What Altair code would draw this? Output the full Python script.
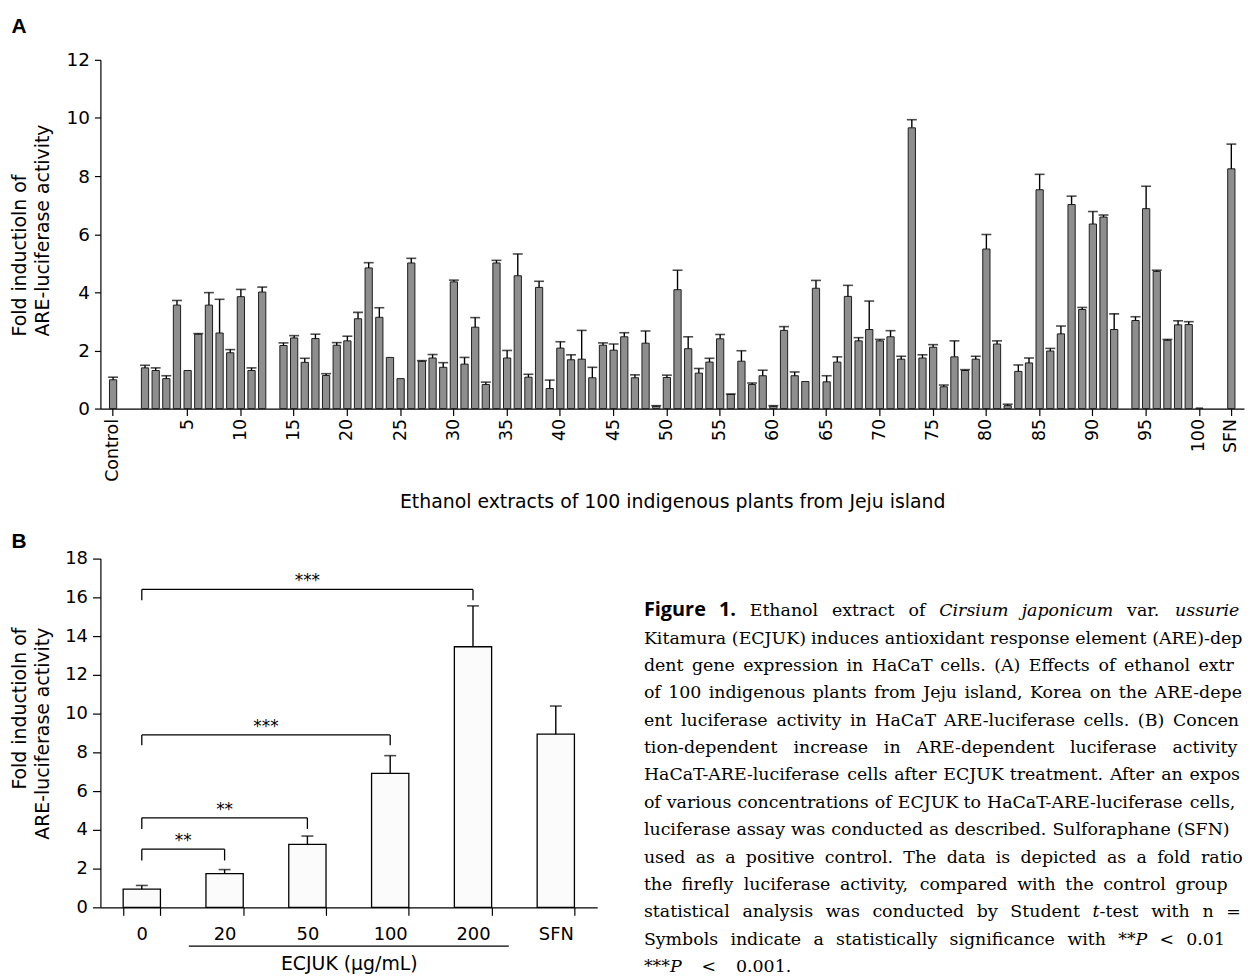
import altair as alt
import pandas as pd

# ---------------- Panel A data ----------------
plant_ids = [str(i) for i in range(1, 101)]
plant_means = [1.40, 1.31, 1.03, 3.56, 1.31, 2.56, 3.56, 2.60, 1.92, 3.85,
               1.31, 4.01, None, 2.17, 2.43, 1.59, 2.41, 1.14, 2.18, 2.33,
               3.09, 4.84, 3.14, 1.76, 1.03, 5.01, 1.63, 1.74, 1.42, 4.36,
               1.53, 2.80, 0.83, 5.01, 1.74, 4.57, 1.08, 4.17, 0.69, 2.08,
               1.68, 1.70, 1.06, 2.18, 2.01, 2.47, 1.06, 2.25, 0.08, 1.07,
               4.09, 2.06, 1.22, 1.60, 2.40, 0.49, 1.63, 0.83, 1.13, 0.08,
               2.69, 1.13, 0.93, 4.14, 0.92, 1.60, 3.86, 2.33, 2.72, 2.33,
               2.47, 1.70, 9.66, 1.74, 2.11, 0.75, 1.78, 1.31, 1.70, 5.49,
               2.22, 0.10, 1.28, 1.57, 7.53, 1.98, 2.57, 7.02, 3.41, 6.35,
               6.59, 2.72, None, 3.03, 6.88, 4.72, 2.35, 2.88, 2.89, 0.02]
plant_errs = [0.09, 0.09, 0.10, 0.16, None, 0.02, 0.43, 1.16, 0.11, 0.25,
              0.09, 0.17, None, 0.09, 0.08, 0.14, 0.15, 0.06, 0.09, 0.16,
              0.22, 0.18, 0.33, None, None, 0.16, 0.02, 0.12, 0.16, 0.06,
              0.23, 0.33, 0.08, 0.09, 0.26, 0.75, 0.10, 0.21, 0.29, 0.22,
              0.17, 0.99, 0.36, 0.08, 0.21, 0.14, 0.10, 0.42, 0.02, 0.08,
              0.67, 0.41, 0.16, 0.13, 0.15, 0.01, 0.36, 0.05, 0.19, 0.02,
              0.13, 0.13, None, 0.27, 0.21, 0.18, 0.38, 0.11, 0.98, 0.05,
              0.21, 0.10, 0.28, 0.11, 0.09, 0.06, 0.55, 0.03, 0.10, 0.50,
              0.11, 0.05, 0.22, 0.17, 0.53, 0.09, 0.27, 0.29, 0.07, 0.43,
              0.07, 0.54, None, 0.13, 0.77, 0.04, 0.03, 0.14, 0.10, None]
control_mean, control_err = 0.99, 0.09
sfn_mean_a, sfn_err_a = 8.25, 0.85
tick_labels_a = ["Control"] + [str(i) for i in range(5, 101, 5)] + ["SFN"]

# ---------------- Panel B data ----------------
cats_b = ["0", "20", "50", "100", "200", "SFN"]
means_b = [0.94, 1.74, 3.25, 6.91, 13.45, 8.94]
errs_b = [0.19, 0.21, 0.43, 0.92, 2.11, 1.45]
bracket_to = ["20", "50", "100", "200"]
bracket_level = [3.0, 4.62, 8.9, 16.41]
bracket_low = [2.42, 4.05, 8.37, 15.85]
bracket_label = ["**", "**", "***", "***"]

ytitle = ["Fold inductioln of", "ARE-luciferase activity"]

# Caption ({...} italic, [...] bold sans)
caption_text = [
    "[Figure] [1.] Ethanol extract of {Cirsium} {japonicum} var. {ussuriense}",
    "Kitamura (ECJUK) induces antioxidant response element (ARE)-depen-",
    "dent gene expression in HaCaT cells. (A) Effects of ethanol extracts",
    "of 100 indigenous plants from Jeju island, Korea on the ARE-depend-",
    "ent luciferase activity in HaCaT ARE-luciferase cells. (B) Concentra-",
    "tion-dependent increase in ARE-dependent luciferase activity in",
    "HaCaT-ARE-luciferase cells after ECJUK treatment. After an exposure",
    "of various concentrations of ECJUK to HaCaT-ARE-luciferase cells, the",
    "luciferase assay was conducted as described. Sulforaphane (SFN) was",
    "used as a positive control. The data is depicted as a fold ratio of",
    "the firefly luciferase activity, compared with the control group and",
    "statistical analysis was conducted by Student {t}-test with n = 3.",
    "Symbols indicate a statistically significance with **{P} < 0.01 and",
    "***{P} < 0.001.",
]

# ---------------- tables ----------------
cats_a = ["Control"] + plant_ids + ["SFN"]
vals_a = [control_mean] + plant_means + [sfn_mean_a]
errs_a = [control_err] + plant_errs + [sfn_err_a]
df_a = pd.DataFrame({
    "cat": cats_a,
    "val": vals_a,
    "top": [(v + e) if (v is not None and e is not None) else None for v, e in zip(vals_a, errs_a)],
})
domain_a = ["Control", " g1", " g2"] + plant_ids + [" g3", " g4", "SFN"]

df_b = pd.DataFrame({"cat": cats_b, "val": means_b,
                     "top": [m + e for m, e in zip(means_b, errs_b)]})
df_br = pd.DataFrame({"from": ["0"] * 4, "to": bracket_to, "level": bracket_level,
                      "low": bracket_low, "label": bracket_label})
df_drop = pd.DataFrame({
    "cat": ["0"] * 4 + bracket_to,
    "level": bracket_level * 2,
    "low": bracket_low * 2,
})

# ---------------- layout ----------------
W, H = 1152, 930
A_BOTTOM = 351
B_TOP, B_BOTTOM = 502, 853
B_WIDTH = 500
SANS = "DejaVu Sans"
SERIF = "DejaVu Serif"

scale_xa = alt.Scale(domain=domain_a, range=[0, 1151], paddingInner=0.32, paddingOuter=0.85)
axis_xa = alt.Axis(orient="bottom", offset=A_BOTTOM - H, values=tick_labels_a, labelAngle=270,
                   labelFontSize=17.5, labelPadding=3, tickSize=7, labelOverlap=False,
                   titleFontSize=19, titleX=575.5, titleY=94, titleBaseline="middle",
                   titleAlign="center")
scale_ya = alt.Scale(domain=[0, 12], range=[A_BOTTOM, 0], nice=False)
axis_ya = alt.Axis(orient="left", values=list(range(0, 13, 2)), tickSize=6, labelPadding=5,
                   labelFontSize=18.5, titleFontSize=19, titleX=-81, titleY=278,
                   titleAlign="left", titleAngle=270, titleBaseline="middle", titleLineHeight=23)


def xa(field="cat"):
    return alt.X(f"{field}:N", scale=scale_xa, axis=axis_xa,
                 title="Ethanol extracts of 100 indigenous plants from Jeju island")


def ya(field="val"):
    return alt.Y(f"{field}:Q", scale=scale_ya, axis=axis_ya, title=ytitle)


scale_xb = alt.Scale(domain=cats_b, range=[0, B_WIDTH], paddingInner=0.55, paddingOuter=0.275)
axis_xb = alt.Axis(orient="bottom", offset=B_BOTTOM - H, labelAngle=0, labelFontSize=18,
                   labelPadding=10, tickSize=8, tickBand="extent", titleFontSize=19,
                   titleX=250, titleY=57, titleBaseline="middle", titleAlign="center")
scale_yb = alt.Scale(domain=[0, 18], range=[B_BOTTOM, B_TOP], nice=False)
axis_yb = alt.Axis(orient="left", values=list(range(0, 19, 2)), tickSize=8, labelPadding=5,
                   labelFontSize=18, titleFontSize=19, titleX=-81, titleY=571,
                   titleAlign="right", titleAngle=270, titleBaseline="middle", titleLineHeight=23)


def xb(field="cat"):
    return alt.X(f"{field}:N", scale=scale_xb, axis=axis_xb, title="ECJUK (μg/mL)")


def yb(field="val"):
    return alt.Y(f"{field}:Q", scale=scale_yb, axis=axis_yb, title=ytitle)


# ---------------- Panel A ----------------
bars_a = alt.Chart(df_a).mark_bar(fill="#8e8e8e", stroke="#1e1e1e", strokeWidth=1).encode(
    x=xa(), y=ya())
err_a = alt.Chart(df_a).transform_filter("datum.top != null").mark_rule(
    color="black", strokeWidth=1.4).encode(x=xa(), y=ya(), y2="top:Q")
cap_a = alt.Chart(df_a).transform_filter("datum.top != null").mark_tick(
    color="black", size=10, thickness=1.6).encode(x=xa(), y=ya("top"))
panel_a = alt.layer(bars_a, err_a, cap_a)

# ---------------- Panel B ----------------
bars_b = alt.Chart(df_b).mark_bar(fill="#fbfbfb", stroke="black", strokeWidth=1.3).encode(
    x=xb(), y=yb())
err_b = alt.Chart(df_b).mark_rule(color="black", strokeWidth=1.4).encode(
    x=xb(), y=yb(), y2="top:Q")
cap_b = alt.Chart(df_b).mark_tick(color="black", size=12, thickness=1.6).encode(
    x=xb(), y=yb("top"))
br_h = alt.Chart(df_br).mark_rule(color="black", strokeWidth=1.3).encode(
    x=xb("from"), x2="to:N", y=yb("level"))
br_v = alt.Chart(df_drop).mark_rule(color="black", strokeWidth=1.3).encode(
    x=xb("cat"), y=yb("level"), y2="low:Q")
step_b = B_WIDTH / len(cats_b)
stars = []
for i in range(len(bracket_to)):
    k = cats_b.index(bracket_to[i])
    stars.append(
        alt.Chart(df_br.iloc[[i]]).mark_text(
            font=SANS, fontSize=17, baseline="alphabetic", align="center",
            xOffset=k * step_b / 2, dy=-3, color="black"
        ).encode(x=xb("from"), y=yb("level"), text="label:N")
    )
underline = alt.Chart(pd.DataFrame({"from": ["20"], "to": ["200"]})).mark_rule(
    color="black", strokeWidth=1.3, xOffset=-36, x2Offset=36).encode(
    x=xb("from"), x2="to:N", y=alt.value(892))
panel_b = alt.layer(bars_b, err_b, cap_b, br_h, br_v, *stars, underline)

# ---------------- panel letters ----------------
one = pd.DataFrame({"a": [0]})


def letter(s, px, py):
    return alt.Chart(one).mark_text(
        font="Liberation Sans", fontSize=21, fontWeight="bold", align="center",
        baseline="alphabetic", color="black"
    ).encode(x=alt.value(px - 101), y=alt.value(py - 57), text=alt.value(s))


# ---------------- caption (justified word layout) ----------------
CAP_SIZE = 17.5
CAP_LEFT, CAP_WIDTH, CAP_CLIP = 648, 630, 1251
BASE0, LINE_H = 617, 27.55
SERIF_W = {
    " ": .318, "a": .596, "b": .640, "c": .560, "d": .640, "e": .592, "f": .370, "g": .640,
    "h": .644, "i": .320, "j": .310, "k": .606, "l": .320, "m": .948, "n": .644, "o": .602,
    "p": .640, "q": .640, "r": .478, "s": .513, "t": .402, "u": .644, "v": .565, "w": .856,
    "x": .564, "y": .565, "z": .527, "A": .722, "B": .735, "C": .720, "D": .802, "E": .729,
    "F": .693, "G": .799, "H": .872, "I": .395, "J": .401, "K": .747, "L": .664, "M": 1.024,
    "N": .875, "O": .820, "P": .673, "Q": .820, "R": .753, "S": .685, "T": .667, "U": .843,
    "V": .722, "W": 1.028, "X": .712, "Y": .660, "Z": .695, ".": .318, ",": .318, "(": .390,
    ")": .390, "-": .338, "=": .838, "<": .838, "*": .500,
}
BOLD_W = {"F": .574, "i": .285, "g": .562, "u": .640, "r": .444, "e": .573, "1": .572, ".": .276}


def piece_width(text, style):
    if style == "bold":
        return sum(BOLD_W.get(c, .6) for c in text) * 20
    return sum(SERIF_W.get(c, .636) for c in text) * CAP_SIZE


def parse_word(word):
    pieces, buf, style = [], "", "reg"
    for c in word:
        if c in "{[":
            if buf:
                pieces.append((buf, style))
            buf, style = "", ("it" if c == "{" else "bold")
        elif c in "}]":
            if buf:
                pieces.append((buf, style))
            buf, style = "", "reg"
        else:
            buf += c
    if buf:
        pieces.append((buf, style))
    return pieces


rows = []
for li, line in enumerate(caption_text):
    words = [parse_word(w) for w in line.split(" ")]
    widths = [sum(piece_width(t, s) for t, s in w) for w in words]
    last = li == len(caption_text) - 1
    gap = 20 if last else max(4.0, (CAP_WIDTH - sum(widths)) / (len(words) - 1))
    x = CAP_LEFT
    py = BASE0 + li * LINE_H
    for w, wd in zip(words, widths):
        px = x
        for t, s in w:
            pw = piece_width(t, s)
            if px + pw > CAP_CLIP:
                keep = ""
                for c in t:
                    if px + piece_width(keep + c, s) > CAP_CLIP:
                        break
                    keep += c
                t = keep
            if t:
                rows.append({"t": t, "px": px - 101, "py": py - 57, "style": s})
            px += pw
        x += wd + gap
cap_df = pd.DataFrame(rows)


def cap_layer(style, **kw):
    return alt.Chart(cap_df[cap_df["style"] == style]).mark_text(
        align="left", baseline="alphabetic", color="black", **kw
    ).encode(
        x=alt.X("px:Q", scale=None, axis=None),
        y=alt.Y("py:Q", scale=None, axis=None),
        text="t:N",
    )


captions = [
    cap_layer("reg", font=SERIF, fontSize=CAP_SIZE),
    cap_layer("it", font=SERIF, fontSize=CAP_SIZE, fontStyle="italic"),
    cap_layer("bold", font="Open Sans", fontSize=20, fontWeight="bold"),
]

chart = alt.layer(
    panel_a, panel_b, letter("A", 19, 30), letter("B", 19, 548), *captions
).resolve_scale(
    x="independent", y="independent"
).properties(
    width=W, height=H,
    padding={"left": 93, "top": 49, "right": 0, "bottom": 0},
    autosize=alt.AutoSizeParams(type="none"),
    background="white",
).configure_view(stroke=None).configure_axis(
    labelFont=SANS, titleFont=SANS, labelColor="black", titleColor="black",
    domainColor="black", tickColor="black", domainWidth=1.2, tickWidth=1.2,
    grid=False, titleFontWeight="normal",
)

chart.save("out.html", embed_options={"renderer": "svg", "actions": False})
